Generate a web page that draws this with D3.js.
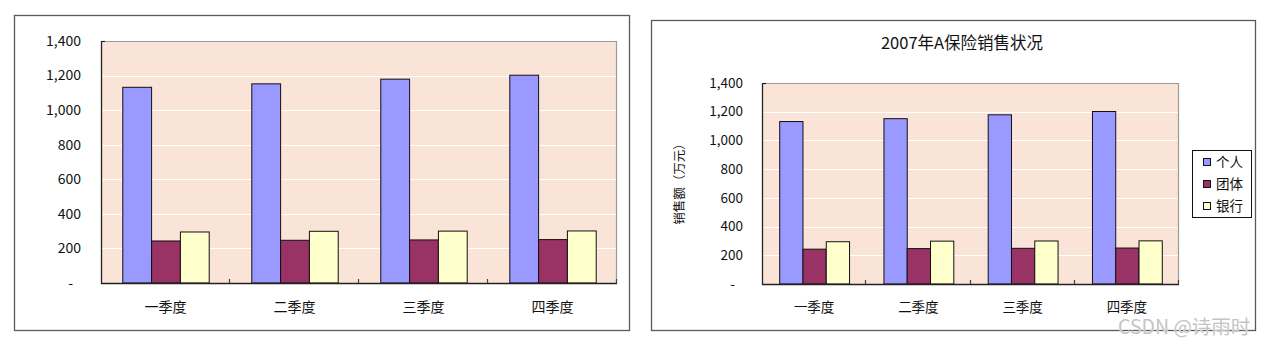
<!DOCTYPE html>
<html>
<head>
<meta charset="utf-8">
<script src="https://cdn.jsdelivr.net/npm/d3@7"></script>
<style>
  html, body { margin: 0; padding: 0; background: #fff; }
  svg { display: block; font-family: "Noto Sans CJK SC", "Noto Sans", sans-serif; }
</style>
</head>
<body>
<svg id="chart" width="1266" height="342"></svg>
<script>
// quarterly sales, 万元
const quarters = ['一季度', '二季度', '三季度', '四季度'];
const seriesNames = ['个人', '团体', '银行'];
const personal = [1135, 1155, 1182, 1205];
const group = [246, 250, 252, 254];
const bank = [298, 302, 303, 304];
const yTicks = [0, 200, 400, 600, 800, 1000, 1200, 1400];
const chartTitle = '2007年A保险销售状况';
const yTitle = '销售额（万元）';

const colors = ['#9999ff', '#993366', '#ffffcc'];
const values = [personal, group, bank];

const svg = d3.select('#chart');
const fmt = d3.format(',');

function drawChart(cfg) {
  const g = svg.append('g');

  // outer frame
  g.append('rect')
    .attr('x', cfg.frame[0] + 0.5).attr('y', cfg.frame[1] + 0.5)
    .attr('width', cfg.frame[2] - cfg.frame[0]).attr('height', cfg.frame[3] - cfg.frame[1])
    .attr('fill', '#fff').attr('stroke', '#5a5a5a').attr('stroke-width', 1.3);

  const x = d3.scaleBand().domain(quarters).range([cfg.left, cfg.right]).paddingInner(0).paddingOuter(0);
  const inner = d3.scaleBand().domain(seriesNames)
    .range([x.bandwidth() * 0.165, x.bandwidth() * 0.835]).padding(0);
  const y = d3.scaleLinear().domain([0, 1400]).range([cfg.bottom, cfg.top]);

  // plot background
  g.append('rect')
    .attr('x', cfg.left).attr('y', cfg.top)
    .attr('width', cfg.right - cfg.left).attr('height', cfg.bottom - cfg.top)
    .attr('fill', '#fae4d7');

  // gridlines
  g.append('g').selectAll('line')
    .data(yTicks.filter(d => d > 0 && d < 1400))
    .join('line')
    .attr('x1', cfg.left).attr('x2', cfg.right)
    .attr('y1', d => Math.round(y(d)) + 0.5).attr('y2', d => Math.round(y(d)) + 0.5)
    .attr('stroke', '#fff').attr('stroke-width', 1);

  // top / right border (grey)
  g.append('path')
    .attr('d', `M${cfg.left},${cfg.top + 0.5}H${cfg.right - 0.5}V${cfg.bottom}`)
    .attr('fill', 'none').attr('stroke', '#9a9a9a').attr('stroke-width', 1.2);

  // bars
  seriesNames.forEach((s, si) => {
    g.append('g').selectAll('rect')
      .data(quarters.map((q, qi) => ({ q, v: values[si][qi] })))
      .join('rect')
      .attr('x', d => x(d.q) + inner(s) + 0.5)
      .attr('y', d => y(d.v) + 0.5)
      .attr('width', inner.bandwidth())
      .attr('height', d => cfg.bottom - y(d.v) - 0.5)
      .attr('fill', colors[si])
      .attr('stroke', '#111').attr('stroke-width', 1);
  });

  // axes lines
  g.append('line')
    .attr('x1', cfg.left + 0.5).attr('x2', cfg.left + 0.5)
    .attr('y1', cfg.top).attr('y2', cfg.bottom + 1)
    .attr('stroke', '#222').attr('stroke-width', 1.3);
  g.append('line')
    .attr('x1', cfg.left).attr('x2', cfg.right)
    .attr('y1', cfg.bottom + 0.5).attr('y2', cfg.bottom + 0.5)
    .attr('stroke', '#222').attr('stroke-width', 1.3);
  g.append('line')
    .attr('x1', cfg.left).attr('x2', cfg.left + 4)
    .attr('y1', cfg.top + 0.5).attr('y2', cfg.top + 0.5)
    .attr('stroke', '#222').attr('stroke-width', 1.2);

  // category ticks (inside)
  const bounds = quarters.map(q => x(q)).concat([cfg.right]);
  g.append('g').selectAll('line')
    .data(bounds.slice(1))
    .join('line')
    .attr('x1', d => Math.round(d) - 0.5).attr('x2', d => Math.round(d) - 0.5)
    .attr('y1', cfg.bottom - 4).attr('y2', cfg.bottom)
    .attr('stroke', '#444').attr('stroke-width', 1.2);

  // y tick labels
  g.append('g').selectAll('text')
    .data(yTicks)
    .join('text')
    .attr('x', d => d === 0 ? cfg.labelX - 8 : cfg.labelX)
    .attr('y', d => y(d))
    .attr('dy', '0.35em')
    .attr('text-anchor', 'end')
    .attr('font-size', cfg.fontSize)
    .attr('fill', '#111')
    .text(d => d === 0 ? '-' : fmt(d));

  // category labels
  g.append('g').selectAll('text')
    .data(quarters)
    .join('text')
    .attr('x', d => x(d) + x.bandwidth() / 2)
    .attr('y', cfg.bottom + cfg.catOffset)
    .attr('dy', '0.35em')
    .attr('text-anchor', 'middle')
    .attr('font-size', cfg.fontSize)
    .attr('fill', '#111')
    .text(d => d);

  return g;
}

// left chart (no title / legend)
drawChart({
  frame: [14, 15, 629, 330],
  left: 101, right: 617, top: 41, bottom: 283,
  labelX: 81, fontSize: 14, catOffset: 24
});

// right chart
const right = drawChart({
  frame: [651, 20, 1255, 330],
  left: 762, right: 1179, top: 83, bottom: 284,
  labelX: 743, fontSize: 13.5, catOffset: 23
});

right.append('text')
  .attr('x', 962).attr('y', 43)
  .attr('dy', '0.35em')
  .attr('text-anchor', 'middle')
  .attr('font-size', 16.5)
  .attr('fill', '#111')
  .text(chartTitle);

right.append('text')
  .attr('transform', 'translate(680,181) rotate(-90)')
  .attr('dy', '0.35em')
  .attr('text-anchor', 'middle')
  .attr('font-size', 12.5)
  .attr('fill', '#111')
  .text(yTitle);

// legend
const legend = right.append('g');
legend.append('rect')
  .attr('x', 1192.5).attr('y', 150.5).attr('width', 59).attr('height', 67)
  .attr('fill', '#fff').attr('stroke', '#111').attr('stroke-width', 1);
const items = legend.selectAll('g.item')
  .data(seriesNames)
  .join('g')
  .attr('class', 'item')
  .attr('transform', (d, i) => `translate(1203,${162 + i * 22})`);
items.append('rect')
  .attr('x', 0.5).attr('y', -3.5).attr('width', 7).attr('height', 7)
  .attr('fill', (d, i) => colors[i]).attr('stroke', '#111').attr('stroke-width', 1);
items.append('text')
  .attr('x', 13).attr('y', 0).attr('dy', '0.35em')
  .attr('font-size', 13.5).attr('fill', '#111')
  .text(d => d);

// watermark
svg.append('text')
  .attr('x', 1118).attr('y', 334)
  .attr('font-size', 19.5)
  .attr('fill', '#c4c4c4')
  .attr('stroke', '#fff').attr('stroke-width', 0.6).attr('paint-order', 'stroke')
  .text('CSDN @诗雨时');
</script>
</body>
</html>
